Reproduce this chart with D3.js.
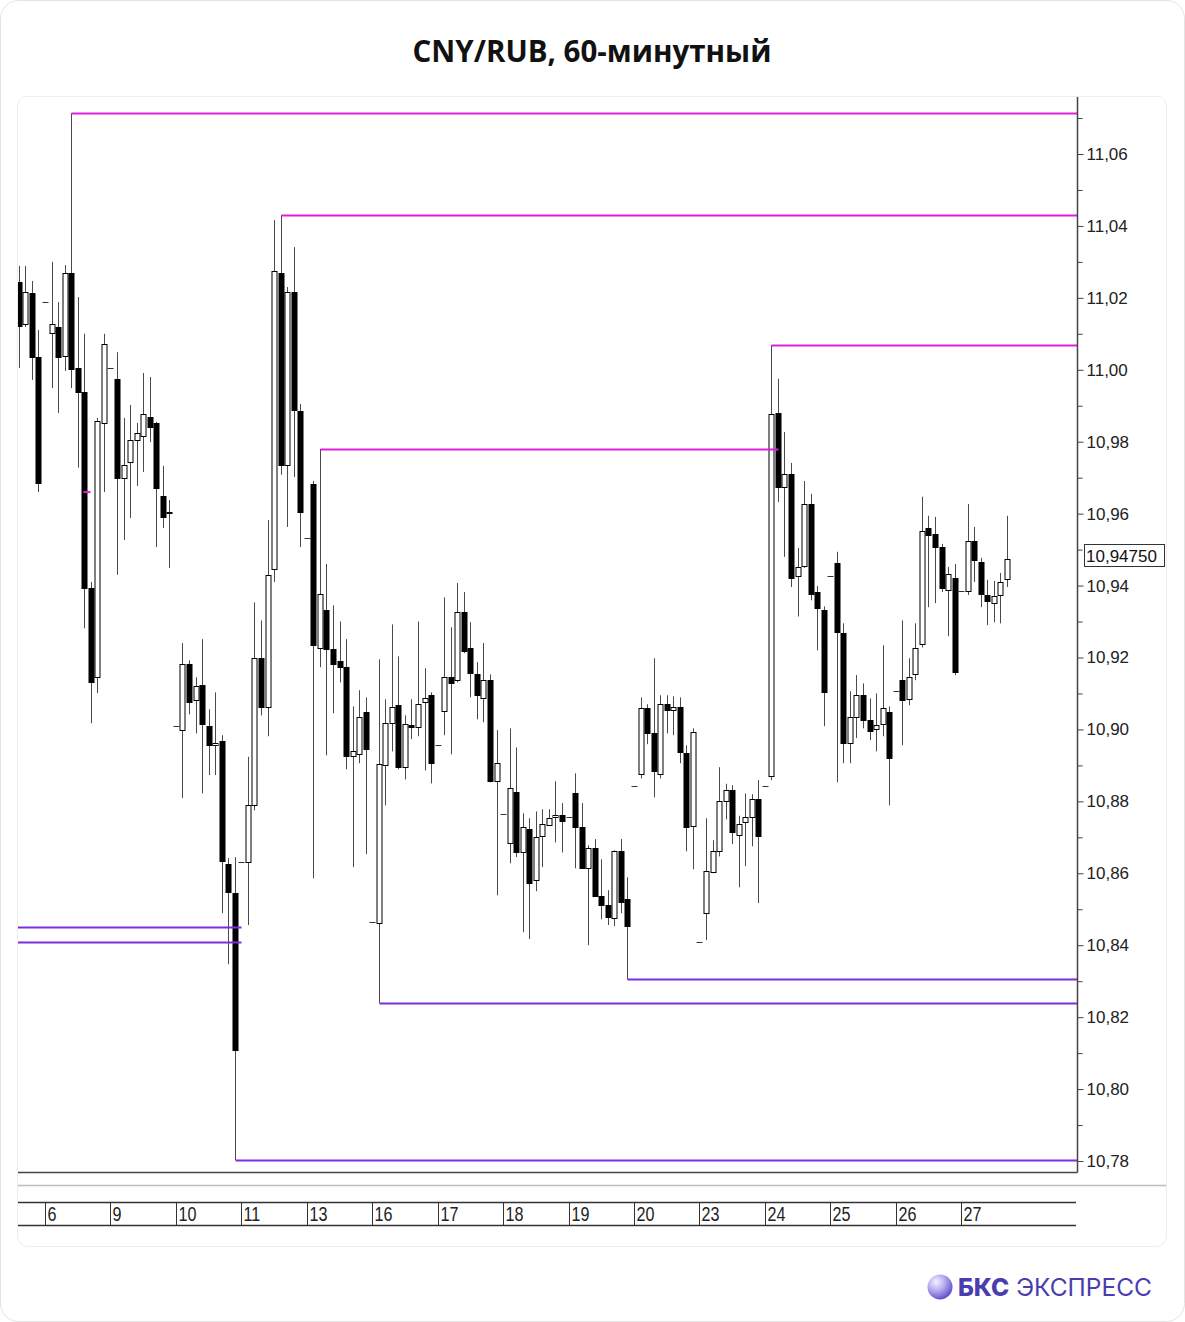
<!DOCTYPE html>
<html><head><meta charset="utf-8">
<script src="https://cdn.jsdelivr.net/npm/d3@7"></script>
<style>
html,body{margin:0;padding:0;background:#fff;}
svg{display:block;}
</style></head><body>
<svg id="chart" width="1185" height="1322"></svg>
<script>
const title = "CNY/RUB, 60-минутный";
const opens = [11.0244,11.0127,11.0213,11.0036,11.0188,11.0102,11.0119,11.0038,11.0269,11.0005,
10.9938,10.9393,10.9145,10.9852,11.0005,10.9974,10.9699,10.9744,10.9805,10.9816,
10.9869,10.9852,10.9649,10.9605,10.9009,10.8999,10.9181,10.9081,10.9123,10.9009,
10.8956,10.8967,10.8625,10.8544,10.8631,10.8631,10.8790,10.9198,10.9062,10.9446,
11.0269,10.9735,11.0216,10.9885,10.9532,10.9682,10.9226,10.9331,10.9223,10.9189,
10.9173,10.8925,10.8931,10.9048,10.8464,10.8461,10.8900,10.9017,10.9067,10.8895,
10.9012,10.9006,10.9075,10.9095,10.8956,10.9050,10.9145,10.9137,10.9326,10.9226,
10.9153,10.9086,10.9137,10.8856,10.8764,10.8684,10.8825,10.8658,10.8722,10.8581,
10.8703,10.8734,10.8756,10.8761,10.8756,10.8822,10.8728,10.8614,10.8670,10.8536,
10.8511,10.8475,10.8661,10.8528,10.8842,10.8875,10.9059,10.8989,10.8875,10.9070,
10.9053,10.9062,10.8934,10.8731,10.8408,10.8489,10.8603,10.8661,10.8802,10.8831,
10.8706,10.8742,10.8756,10.8807,10.8842,10.8870,10.9880,10.9674,10.9710,10.9427,
10.9455,10.9627,10.9382,10.9331,10.9427,10.9463,10.9267,10.8962,10.9034,10.9095,
10.9025,10.9000,10.9014,10.9048,10.9106,10.9137,10.9084,10.9153,10.9237,10.9560,
10.9543,10.9507,10.9387,10.9421,10.9385,10.9385,10.9524,10.9466,10.9374,10.9351,
10.9374,10.9418];
const highs = [11.0289,11.0289,11.0247,11.0111,11.0188,11.0300,11.0188,11.0291,11.0714,11.0202,
11.0100,10.9410,10.9866,11.0100,11.0005,11.0049,10.9866,10.9902,10.9852,10.9991,
10.9980,10.9855,10.9733,10.9638,10.9009,10.9240,10.9192,10.9145,10.9251,10.9056,
10.9103,10.8984,10.8642,10.8645,10.8631,10.8924,10.9353,10.9303,10.9582,11.0416,
11.0430,11.0230,11.0341,10.9905,10.9532,10.9691,10.9780,10.9460,10.9345,10.9300,
10.9251,10.9064,10.9109,10.9089,10.8464,10.9195,10.9084,10.9292,10.9203,10.9039,
10.9084,10.9300,10.9170,10.9103,10.8956,10.9367,10.9284,10.9407,10.9382,10.9298,
10.9187,10.9240,10.9153,10.8998,10.8764,10.9003,10.8950,10.8767,10.8753,10.8772,
10.8778,10.8778,10.8856,10.8795,10.8756,10.8878,10.8795,10.8678,10.8695,10.8639,
10.8553,10.8664,10.8695,10.8589,10.8842,10.9089,10.9070,10.9198,10.9095,10.9095,
10.9092,10.9089,10.8956,10.9003,10.8408,10.8753,10.8692,10.8895,10.8849,10.8845,
10.8760,10.8822,10.8820,10.8859,10.8842,11.0069,10.9975,10.9827,10.9741,10.9505,
10.9691,10.9655,10.9399,10.9342,10.9427,10.9494,10.9295,10.9106,10.9151,10.9128,
10.9086,10.9100,10.9234,10.9064,10.9106,10.9303,10.9198,10.9295,10.9647,10.9594,
10.9591,10.9516,10.9452,10.9460,10.9385,10.9627,10.9563,10.9477,10.9416,10.9413,
10.9435,10.9594];
const lows = [11.0005,11.0119,10.9972,10.9660,11.0188,10.9949,10.9880,10.9997,10.9949,10.9728,
10.9281,10.9017,10.9101,10.9660,11.0005,10.9430,10.9527,10.9588,10.9677,10.9716,
10.9799,10.9507,10.9560,10.9449,10.9009,10.8809,10.9042,10.8989,10.8822,10.8873,
10.8873,10.8489,10.8347,10.7803,10.8631,10.8456,10.8775,10.9039,10.8981,10.9410,
10.9708,10.9563,10.9702,10.9507,10.9532,10.8586,10.9173,10.8928,10.9045,10.9131,
10.8889,10.8617,10.8906,10.8653,10.8464,10.8239,10.8789,10.8939,10.8889,10.8861,
10.8973,10.8981,10.8886,10.8850,10.8956,10.8984,10.8931,10.9131,10.9212,10.9089,
10.9028,10.9020,10.8853,10.8539,10.8764,10.8628,10.8645,10.8436,10.8417,10.8550,
10.8617,10.8734,10.8686,10.8658,10.8756,10.8614,10.8614,10.8400,10.8536,10.8472,
10.8456,10.8453,10.8489,10.8305,10.8842,10.8864,10.8959,10.8811,10.8864,10.8989,
10.8984,10.8906,10.8661,10.8611,10.8408,10.8414,10.8600,10.8647,10.8750,10.8681,
10.8561,10.8620,10.8675,10.8517,10.8842,10.8859,10.9632,10.9480,10.9396,10.9314,
10.9449,10.9359,10.9220,10.9009,10.9427,10.8853,10.8906,10.8906,10.8976,10.9003,
10.8970,10.8939,10.8981,10.8789,10.9106,10.8956,10.9067,10.9137,10.9228,10.9340,
10.9351,10.9382,10.9259,10.9151,10.9385,10.9374,10.9410,10.9340,10.9290,10.9298,
10.9295,10.9396];
const closes = [11.0122,11.0216,11.0036,10.9684,11.0188,11.0127,11.0036,11.0269,11.0002,10.9938,
10.9393,10.9131,10.9858,11.0072,11.0005,10.9699,10.9735,10.9805,10.9824,10.9877,
10.9841,10.9671,10.9591,10.9605,10.9009,10.9181,10.9075,10.9120,10.9014,10.8956,
10.8962,10.8633,10.8547,10.8108,10.8631,10.8790,10.9198,10.9062,10.9430,11.0275,
10.9735,11.0216,10.9888,10.9605,10.9532,10.9234,10.9377,10.9223,10.9181,10.9173,
10.8925,10.8939,10.9034,10.8945,10.8464,10.8903,10.9017,10.9062,10.8895,10.9014,
10.9006,10.9070,10.9086,10.8906,10.8956,10.9145,10.9128,10.9326,10.9217,10.9156,
10.9095,10.9137,10.8856,10.8906,10.8764,10.8836,10.8658,10.8728,10.8572,10.8700,
10.8736,10.8753,10.8761,10.8745,10.8756,10.8728,10.8614,10.8670,10.8536,10.8511,
10.8478,10.8661,10.8519,10.8453,10.8842,10.9059,10.8989,10.8884,10.9070,10.9053,
10.9062,10.8937,10.8728,10.8992,10.8408,10.8606,10.8661,10.8802,10.8831,10.8714,
10.8736,10.8756,10.8807,10.8703,10.8842,10.9877,10.9674,10.9710,10.9421,10.9452,
10.9627,10.9377,10.9337,10.9103,10.9427,10.9270,10.8962,10.9034,10.9095,10.9025,
10.8995,10.9012,10.9059,10.8920,10.9106,10.9081,10.9145,10.9226,10.9552,10.9541,
10.9507,10.9393,10.9432,10.9159,10.9385,10.9524,10.9471,10.9377,10.9357,10.9371,
10.9410,10.9475];

const dayLabels = ["6","9","10","11","13","16","17","18","19","20","23","24","25","26","27"];
const dayStartIndex = [4,14,24,34,44,54,64,74,84,94,104,114,124,134,144];
const yTickValues = [10.78,10.80,10.82,10.84,10.86,10.88,10.90,10.92,10.94,10.96,10.98,11.00,11.02,11.04,11.06];
const yMinorTickValues = [10.79,10.81,10.83,10.85,10.87,10.89,10.91,10.93,10.95,10.97,10.99,11.01,11.03,11.05,11.07];
const lastPrice = 10.9475;
const lastPriceLabel = "10,94750";

// horizontal levels: price, start candle index (null = left edge), end candle index (null = right edge), kind
const levelPrices = [11.0714, 11.0430, 11.0069, 10.9780, 10.8450, 10.8408, 10.8305, 10.8239, 10.7803];
const levelStart  = [8, 40, 115, 46, null, null, 93, 55, 33];
const levelEnd    = [null, null, null, 116, 34, 34, null, null, null];
const levelKind   = ["res","res","res","res","sup","sup","sup","sup","sup"];
const markerIndex = [10];
const markerPrice = [10.9660];

const levelColor = {res: "#e01ee0", sup: "#7a2fd8"};

const svg = d3.select("#chart");

// outer card
svg.append("rect").attr("x",0.5).attr("y",0.5).attr("width",1184).attr("height",1321)
  .attr("rx",18).attr("fill","#fff").attr("stroke","#e3e3e3");
// title
svg.append("text").attr("x",592).attr("y",62).attr("text-anchor","middle")
  .attr("font-family","'Open Sans', 'Noto Sans', sans-serif").attr("font-weight",700)
  .attr("font-size",29.5).attr("fill","#111").text(title);
// inner panel
svg.append("rect").attr("x",17.5).attr("y",96.5).attr("width",1149).attr("height",1150)
  .attr("rx",10).attr("fill","#fff").attr("stroke","#ececec");

const plotL = 18, plotR = 1077, plotT = 97, plotB = 1172;
const x = d3.scaleLinear().domain([-0.13, 161.7]).range([plotL, plotR]);
const y = d3.scaleLinear().domain([10.78, 11.06]).range([1161, 154]);

svg.append("clipPath").attr("id","plotclip").append("rect")
  .attr("x",plotL).attr("y",plotT).attr("width",plotR-plotL).attr("height",plotB-plotT);

const plot = svg.append("g").attr("clip-path","url(#plotclip)");

const candles = opens.map((o,i)=>({i, o, h: highs[i], l: lows[i], c: closes[i]}));
const cx = i => Math.round(x(i)) + 0.5;

// wicks
plot.selectAll("line.wick").data(candles.filter(d=>d.h!==d.l)).join("line")
  .attr("class","wick")
  .attr("x1",d=>cx(d.i)).attr("x2",d=>cx(d.i))
  .attr("y1",d=>y(d.h)).attr("y2",d=>y(d.l))
  .attr("stroke","#4a4a4a").attr("stroke-width",1);

// bodies
const bodyData = candles.filter(d=>!(d.h===d.l));
plot.selectAll("rect.body").data(bodyData).join("rect")
  .attr("class","body")
  .attr("x",d=>cx(d.i)-2.5)
  .attr("y",d=>Math.round(y(Math.max(d.o,d.c)))+0.5)
  .attr("width",5)
  .attr("height",d=>Math.max(1, Math.round(y(Math.min(d.o,d.c))) - Math.round(y(Math.max(d.o,d.c)))))
  .attr("fill",d=>d.c>=d.o ? "#fff" : "#000")
  .attr("stroke","#000").attr("stroke-width",1);

// flat candles (single-price)
plot.selectAll("line.flat").data(candles.filter(d=>d.h===d.l)).join("line")
  .attr("class","flat")
  .attr("x1",d=>cx(d.i)-3).attr("x2",d=>cx(d.i)+3)
  .attr("y1",d=>Math.round(y(d.c))+0.5).attr("y2",d=>Math.round(y(d.c))+0.5)
  .attr("stroke","#333").attr("stroke-width",1);

// levels
const levels = levelPrices.map((p,k)=>({p, s: levelStart[k], e: levelEnd[k], kind: levelKind[k]}));
plot.selectAll("line.level").data(levels).join("line")
  .attr("class","level")
  .attr("x1",d=>d.s===null ? plotL : cx(d.s))
  .attr("x2",d=>d.e===null ? plotR : cx(d.e))
  .attr("y1",d=>Math.round(y(d.p))+0.5).attr("y2",d=>Math.round(y(d.p))+0.5)
  .attr("stroke",d=>levelColor[d.kind]).attr("stroke-width",2);

// small marker
plot.selectAll("line.marker").data(markerIndex.map((m,k)=>({i:m,p:markerPrice[k]}))).join("line")
  .attr("x1",d=>cx(d.i)-1).attr("x2",d=>cx(d.i)+6)
  .attr("y1",d=>y(d.p)).attr("y2",d=>y(d.p))
  .attr("stroke",levelColor.res).attr("stroke-width",2);

// axes frame
const axisColor = "#444";
svg.append("line").attr("x1",plotR+0.5).attr("x2",plotR+0.5).attr("y1",plotT).attr("y2",plotB+0.5)
  .attr("stroke",axisColor).attr("stroke-width",1.5);
svg.append("line").attr("x1",plotL).attr("x2",plotR+0.5).attr("y1",plotB+0.5).attr("y2",plotB+0.5)
  .attr("stroke",axisColor).attr("stroke-width",1.5);

// right y axis
const fmt = v => v.toFixed(2).replace(".", ",");
const yAxis = d3.axisRight(y).tickValues(yTickValues).tickFormat(fmt).tickSize(6).tickPadding(3);
const gy = svg.append("g").attr("transform",`translate(${plotR+0.5},0)`).call(yAxis);
gy.select(".domain").remove();
gy.selectAll(".tick line").attr("stroke",axisColor);
gy.selectAll(".tick text").attr("font-family","'Liberation Sans', Arial, sans-serif")
  .attr("font-size",17).attr("fill","#222");
const yMinor = d3.axisRight(y).tickValues(yMinorTickValues).tickFormat("").tickSize(5);
const gym = svg.append("g").attr("transform",`translate(${plotR+0.5},0)`).call(yMinor);
gym.select(".domain").remove();
gym.selectAll(".tick line").attr("stroke",axisColor);

// last price label
const lpY = Math.round(y(lastPrice)) - 3;
svg.append("rect").attr("x",1084.5).attr("y",lpY-11.5).attr("width",80).attr("height",22)
  .attr("fill","#fff").attr("stroke","#333");
svg.append("text").attr("x",1086).attr("y",lpY+6)
  .attr("font-family","'Liberation Sans', Arial, sans-serif").attr("font-size",17).attr("fill","#111")
  .text(lastPriceLabel);

// separator
svg.append("line").attr("x1",18).attr("x2",1166).attr("y1",1185.5).attr("y2",1185.5)
  .attr("stroke","#bdbdbd").attr("stroke-width",1.5);

// date axis
const dTop = 1202.5, dBot = 1225.5;
svg.append("line").attr("x1",18).attr("x2",1076).attr("y1",dTop).attr("y2",dTop).attr("stroke","#333").attr("stroke-width",1.5);
svg.append("line").attr("x1",18).attr("x2",1076).attr("y1",dBot).attr("y2",dBot).attr("stroke","#333").attr("stroke-width",1.5);
const days = dayLabels.map((lab,k)=>({lab, i: dayStartIndex[k]}));
const gd = svg.append("g");
gd.selectAll("line").data(days).join("line")
  .attr("x1",d=>cx(d.i)).attr("x2",d=>cx(d.i)).attr("y1",dTop).attr("y2",dBot)
  .attr("stroke","#333").attr("stroke-width",1);
gd.selectAll("text").data(days).join("text")
  .attr("x",d=>cx(d.i)+2).attr("y",1221)
  .attr("font-family","'Liberation Sans Narrow', 'Liberation Sans', Arial, sans-serif")
  .attr("font-size",19).attr("fill","#222")
  .attr("transform",d=>`translate(${cx(d.i)+2},1221) scale(0.85,1.05) translate(${-(cx(d.i)+2)},-1221)`)
  .text(d=>d.lab);

// logo
const defs = svg.append("defs");
const grad = defs.append("radialGradient").attr("id","logoGrad").attr("cx","35%").attr("cy","30%").attr("r","75%");
grad.append("stop").attr("offset","0%").attr("stop-color","#f4f1ff");
grad.append("stop").attr("offset","45%").attr("stop-color","#b8aef0");
grad.append("stop").attr("offset","100%").attr("stop-color","#5b48c9");
svg.append("circle").attr("cx",940).attr("cy",1287).attr("r",12.5).attr("fill","url(#logoGrad)");
const logo = svg.append("text").attr("x",958).attr("y",1296)
  .attr("font-family","'Inter', 'Noto Sans', sans-serif").attr("font-size",24.5).attr("fill","#4a3db0");
logo.append("tspan").attr("font-weight",800).text("БКС");
logo.append("tspan").attr("font-weight",400).attr("dx",7).text("ЭКСПРЕСС");
</script>
</body></html>
